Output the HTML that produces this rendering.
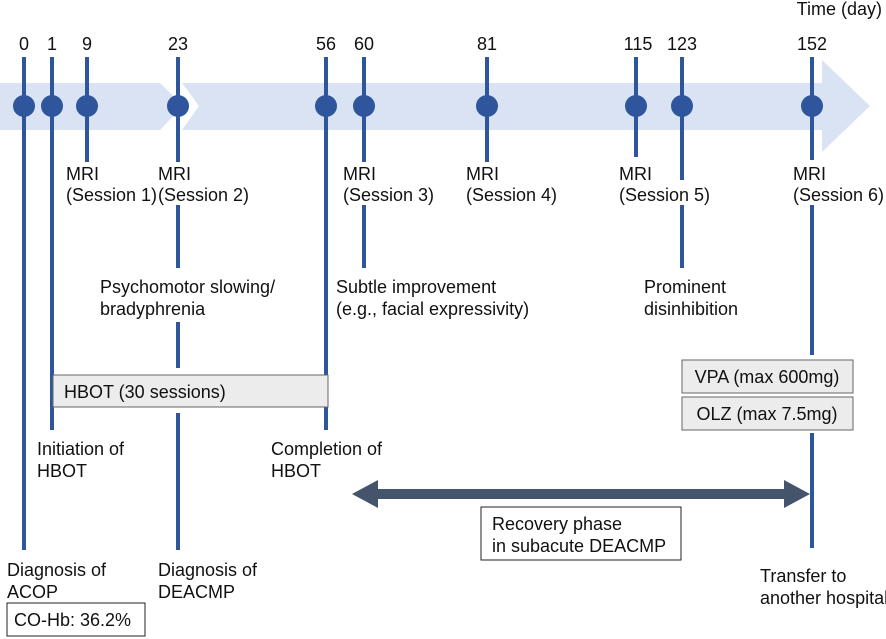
<!DOCTYPE html>
<html><head><meta charset="utf-8"><style>
html,body{margin:0;padding:0;background:#fff;}
svg{display:block;}
text{font-family:"Liberation Sans",Arial,sans-serif;font-size:18px;fill:#111;}
</style></head><body>
<svg width="886" height="639" viewBox="0 0 886 639" xmlns="http://www.w3.org/2000/svg">
<polygon points="0,83 160,83 183,106 160,130 0,130" fill="#dae3f3"/>
<polygon points="182,83 822,83 822,60 870,106 822,152 822,130 182,130 199,106" fill="#dae3f3"/>
<g stroke="#2f569c" stroke-width="4" fill="none">
<line x1="24" y1="57" x2="24" y2="550"/>
<line x1="52" y1="57" x2="52" y2="430"/>
<line x1="87" y1="57" x2="87" y2="162"/>
<line x1="178" y1="57" x2="178" y2="162"/>
<line x1="178" y1="205" x2="178" y2="268"/>
<line x1="178" y1="322" x2="178" y2="368"/>
<line x1="178" y1="413" x2="178" y2="550"/>
<line x1="326" y1="57" x2="326" y2="430"/>
<line x1="364" y1="57" x2="364" y2="162"/>
<line x1="364" y1="205" x2="364" y2="268"/>
<line x1="487" y1="57" x2="487" y2="162"/>
<line x1="636" y1="57" x2="636" y2="157"/>
<line x1="682" y1="57" x2="682" y2="180"/>
<line x1="682" y1="205" x2="682" y2="268"/>
<line x1="812" y1="57" x2="812" y2="160"/>
<line x1="812" y1="205" x2="812" y2="355"/>
<line x1="812" y1="433" x2="812" y2="548"/>
</g>
<g fill="#2f569c">
<circle cx="24" cy="106" r="11"/><circle cx="52" cy="106" r="11"/><circle cx="87" cy="106" r="11"/>
<circle cx="178" cy="106" r="11"/><circle cx="326" cy="106" r="11"/><circle cx="364" cy="106" r="11"/>
<circle cx="487" cy="106" r="11"/><circle cx="636" cy="106" r="11"/><circle cx="682" cy="106" r="11"/>
<circle cx="812" cy="106" r="11"/>
</g>
<g text-anchor="middle">
<text x="24" y="50">0</text><text x="52" y="50">1</text><text x="87" y="50">9</text>
<text x="178" y="50">23</text><text x="326" y="50">56</text><text x="364" y="50">60</text>
<text x="487" y="50">81</text><text x="638" y="50">115</text><text x="682" y="50">123</text>
<text x="812" y="50">152</text>
</g>
<text x="882" y="15" text-anchor="end">Time (day)</text>
<text x="66" y="180">MRI</text><text x="66" y="201">(Session 1)</text>
<text x="158" y="180">MRI</text><text x="158" y="201">(Session 2)</text>
<text x="343" y="180">MRI</text><text x="343" y="201">(Session 3)</text>
<text x="466" y="180">MRI</text><text x="466" y="201">(Session 4)</text>
<text x="619" y="180">MRI</text><text x="619" y="201">(Session 5)</text>
<text x="793" y="180">MRI</text><text x="793" y="201">(Session 6)</text>
<text x="100" y="293">Psychomotor slowing/</text><text x="100" y="315">bradyphrenia</text>
<text x="336" y="293">Subtle improvement</text><text x="336" y="315">(e.g., facial expressivity)</text>
<text x="644" y="293">Prominent</text><text x="644" y="315">disinhibition</text>
<rect x="53" y="375" width="275" height="32" fill="#ececec" stroke="#666" stroke-width="1"/>
<text x="64" y="398">HBOT (30 sessions)</text>
<rect x="682" y="360" width="171" height="33" fill="#ececec" stroke="#666" stroke-width="1"/>
<text x="767" y="383" text-anchor="middle">VPA (max 600mg)</text>
<rect x="682" y="397" width="171" height="33" fill="#ececec" stroke="#666" stroke-width="1"/>
<text x="767" y="420" text-anchor="middle">OLZ (max 7.5mg)</text>
<text x="37" y="455">Initiation of</text><text x="37" y="477">HBOT</text>
<text x="271" y="455">Completion of</text><text x="271" y="477">HBOT</text>
<polygon points="352,494 378,480 378,489 784,489 784,480 810,494 784,508 784,499 378,499 378,508" fill="#44546a"/>
<rect x="481" y="507" width="200" height="53" fill="#fff" stroke="#222" stroke-width="1"/>
<text x="492" y="530">Recovery phase</text><text x="492" y="552">in subacute DEACMP</text>
<text x="7" y="576">Diagnosis of</text><text x="7" y="598">ACOP</text>
<rect x="7" y="603" width="138" height="33" fill="#fff" stroke="#222" stroke-width="1"/>
<text x="14" y="626">CO-Hb: 36.2%</text>
<text x="158" y="576">Diagnosis of</text><text x="158" y="598">DEACMP</text>
<text x="760" y="582">Transfer to</text><text x="760" y="604">another hospital</text>
</svg>
</body></html>
